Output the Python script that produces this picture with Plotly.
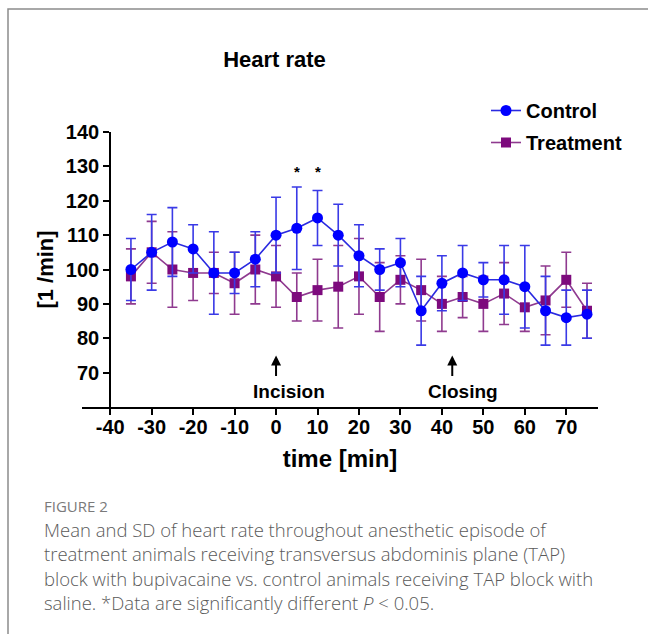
import plotly.graph_objects as go

# ---------------- data ----------------
time_min = [-35, -30, -25, -20, -15, -10, -5, 0, 5, 10, 15, 20, 25, 30, 35, 40, 45, 50, 55, 60, 65, 70, 75]

control_mean = [100, 105, 108, 106, 99, 99, 103, 110, 112, 115, 110, 104, 100, 102, 88, 96, 99, 97, 97, 95, 88, 86, 87]
control_upper = [109, 116, 118, 113, 111, 105, 111, 121, 124, 123, 119, 113, 106, 109, 98, 104, 107, 102, 107, 107, 98, 94, 94]
control_lower = [91, 94, 98, 99, 87, 93, 95, 99, 100, 107, 101, 95, 94, 95, 78, 88, 91, 92, 87, 83, 78, 78, 80]

treatment_mean = [98, 105, 100, 99, 99, 96, 100, 98, 92, 94, 95, 98, 92, 97, 94, 90, 92, 90, 93, 89, 91, 97, 88]
treatment_upper = [106, 114, 111, 106, 105, 105, 110, 107, 99, 103, 107, 109, 102, 104, 103, 98, 98, 98, 102, 95, 101, 105, 96]
treatment_lower = [90, 96, 89, 91, 93, 87, 90, 89, 85, 85, 83, 87, 82, 90, 85, 82, 86, 82, 84, 82, 81, 89, 80]

x_ticks = [-40, -30, -20, -10, 0, 10, 20, 30, 40, 50, 60, 70]
y_ticks = [70, 80, 90, 100, 110, 120, 130, 140]

signif_times = [5, 10]
signif_level = 128.5

events = ["Incision", "Closing"]
event_times = [0, 42.5]
event_label_x = [3.2, 45]

caption_head = "FIGURE 2"
caption_lines = [
    "Mean and SD of heart rate throughout anesthetic episode of",
    "treatment animals receiving transversus abdominis plane (TAP)",
    "block with bupivacaine vs. control animals receiving TAP block with",
    "saline. *Data are significantly different <i>P</i> &lt; 0.05.",
]

# ---------------- layout geometry ----------------
W, H = 648, 634
ML, MR, MT, MB = 82, 50, 132, 227
X_RANGE = [-46.8, 77.65]
Y_RANGE = [60, 140]


def px_x(px):
    return (px - ML) / (W - ML - MR)


def px_y(py):
    return (H - MB - py) / (H - MT - MB)


BOLD = dict(family="Liberation Sans, Arial, sans-serif", color="black", weight="bold")


def err(mean, upper, lower):
    return dict(
        type="data",
        symmetric=False,
        array=[u - m for u, m in zip(upper, mean)],
        arrayminus=[m - l for m, l in zip(mean, lower)],
    )


fig = go.Figure()

t_err = err(treatment_mean, treatment_upper, treatment_lower)
t_err.update(color="#8f3a8f", thickness=1.6, width=5)
fig.add_trace(go.Scatter(
    x=time_min, y=treatment_mean, name="Treatment", mode="lines+markers",
    line=dict(color="#8f3a8f", width=1.6),
    marker=dict(symbol="square", size=10, color="#7d0a7d"),
    error_y=t_err, legendrank=2, legendgroup="t",
))

c_err = err(control_mean, control_upper, control_lower)
c_err.update(color="#3a3ae6", thickness=1.6, width=5)
fig.add_trace(go.Scatter(
    x=time_min, y=control_mean, name="Control", mode="lines+markers",
    line=dict(color="#2a2ae0", width=1.6),
    marker=dict(symbol="circle", size=11, color="#0000ff"),
    error_y=c_err, legendrank=1, legendgroup="c",
))

annotations = []
# significance asterisks
for t in signif_times:
    annotations.append(dict(x=t, y=signif_level, xref="x", yref="y", text="*",
                            showarrow=False, font=dict(BOLD, size=15)))
# event arrows and labels
for name, t, lx in zip(events, event_times, event_label_x):
    annotations.append(dict(x=t, y=75, xref="x", yref="y", ax=t, ay=68.6,
                            axref="x", ayref="y", text="", showarrow=True,
                            arrowhead=2, arrowsize=1, arrowwidth=2, arrowcolor="black"))
    annotations.append(dict(x=lx, y=64.5, xref="x", yref="y", text=name,
                            showarrow=False, font=dict(BOLD, size=19)))

# caption
cap_font = dict(family="Open Sans, Lato, sans-serif", color="#5a5a5a", weight=300)
annotations.append(dict(x=px_x(42), y=px_y(506), xref="paper", yref="paper",
                        xanchor="left", yanchor="middle", text=caption_head,
                        showarrow=False, font=dict(cap_font, size=15, color="#7a7a7a", weight="normal")))
for i, line in enumerate(caption_lines):
    annotations.append(dict(x=px_x(42), y=px_y(529 + 24.6 * i), xref="paper", yref="paper",
                            xanchor="left", yanchor="middle", text=line,
                            showarrow=False, font=dict(cap_font, size=18.5)))

fig.update_layout(
    width=W, height=H,
    margin=dict(l=ML, r=MR, t=MT, b=MB, pad=0),
    paper_bgcolor="white", plot_bgcolor="white",
    title=dict(text="Heart rate", x=px_x(274.5), xref="paper", xanchor="center",
               y=1 - 59 / H, yref="container", yanchor="middle",
               font=dict(BOLD, size=22)),
    showlegend=True,
    legend=dict(x=px_x(486), y=px_y(91), xanchor="left", yanchor="top",
                xref="paper", yref="paper", bgcolor="rgba(0,0,0,0)",
                font=dict(BOLD, size=20), itemwidth=30,
                traceorder="grouped", tracegroupgap=3),
    xaxis=dict(
        range=X_RANGE, tickmode="array", tickvals=x_ticks,
        ticktext=[str(v) for v in x_ticks],
        showline=True, linecolor="black", linewidth=2,
        ticks="outside", ticklen=6, tickwidth=2, tickcolor="black",
        showgrid=False, zeroline=False,
        tickfont=dict(BOLD, size=20), ticklabelstandoff=-5,
        title=dict(text="time [min]", font=dict(BOLD, size=24), standoff=13),
    ),
    yaxis=dict(
        range=Y_RANGE, tickmode="array", tickvals=y_ticks,
        ticktext=[str(v) for v in y_ticks],
        anchor="free", position=(-40 - X_RANGE[0]) / (X_RANGE[1] - X_RANGE[0]),
        showline=True, linecolor="black", linewidth=2,
        ticks="outside", ticklen=6, tickwidth=2, tickcolor="black",
        showgrid=False, zeroline=False,
        tickfont=dict(BOLD, size=20),
        title=dict(text="[1 /min]", font=dict(BOLD, size=22), standoff=5),
    ),
    annotations=annotations,
    shapes=[dict(type="rect", xref="paper", yref="paper",
                 x0=px_x(8), y0=px_y(660), x1=px_x(700), y1=px_y(9),
                 line=dict(color="#8c8c8c", width=1.5), fillcolor="rgba(0,0,0,0)",
                 layer="below")],
)

fig.write_html("out.html", config={"displayModeBar": False},
               post_script="document.body.style.margin='0';")
